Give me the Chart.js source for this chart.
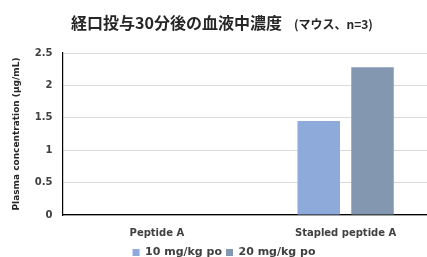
<!DOCTYPE html>
<html>
<head>
<meta charset="utf-8">
<script src="https://cdn.jsdelivr.net/npm/chart.js@4"></script>
<style>
  body { margin: 0; overflow: hidden; background: #fff; }
  #wrap { width: 440px; height: 268px; }
</style>
</head>
<body>
<div id="wrap"><canvas id="myChart"></canvas></div>
<script>
// categories and values
const categories = ["Peptide A", "Stapled peptide A"];
const dose10 = [0, 1.45];
const dose20 = [0, 2.28];
const seriesNames = ["10 mg/kg po", "20 mg/kg po"];
const titleMain = "経口投与30分後の血液中濃度";
const titleNote = "(マウス、n=3)";

const barColors = {
    low: "#8eaadb",
    high: "#8497b0",
};

const labelFont = { family: "'DejaVu Sans', Verdana, sans-serif", size: 10, weight: "bold" };

// title with a smaller note after it, like the original
const twoPartTitle = {
    id: "twoPartTitle",
    afterDraw(chart) {
        const c = chart.ctx;
        c.save();
        c.fillStyle = "#262626";
        c.textBaseline = "middle";
        const mainFont = "bold 16px 'Noto Sans CJK JP', sans-serif";
        const noteFont = "bold 12px 'Noto Sans CJK JP', sans-serif";
        c.font = mainFont;
        const w1 = c.measureText(titleMain).width;
        c.font = noteFont;
        const w2 = c.measureText(titleNote).width;
        const gap = 12;
        let x = 222 - (w1 + gap + w2) / 2;
        c.font = mainFont;
        c.fillText(titleMain, x, 23);
        c.font = noteFont;
        c.fillText(titleNote, x + w1 + gap, 24);
        c.restore();
    },
};

const ctx = document.getElementById("myChart").getContext("2d");
const myChart = new Chart(ctx, {
    type: "bar",
    data: {
        labels: categories,
        datasets: [
            { label: seriesNames[0], data: dose10, backgroundColor: barColors.low },
            { label: seriesNames[1], data: dose20, backgroundColor: barColors.high },
        ],
    },
    options: {
        responsive: true,
        maintainAspectRatio: false,
        animation: false,
        categoryPercentage: 0.57,
        barPercentage: 0.79,
        layout: { padding: { left: 8, right: 0, top: 53, bottom: 0 } },
        plugins: {
            title: { display: false },
            legend: {
                position: "bottom",
                labels: {
                    boxWidth: 7,
                    boxHeight: 7,
                    padding: 4,
                    color: "#404040",
                    font: { family: "'DejaVu Sans', Verdana, sans-serif", size: 11, weight: "bold" },
                },
            },
            tooltip: { enabled: false },
        },
        scales: {
            x: {
                grid: { display: false },
                border: { color: "#000", width: 1.2 },
                ticks: { color: "#404040", font: labelFont, padding: 4 },
            },
            y: {
                min: 0,
                max: 2.5,
                ticks: {
                    stepSize: 0.5,
                    color: "#404040",
                    font: labelFont,
                    padding: 10,
                    callback: (v) => String(v),
                },
                grid: { color: "#d9d9d9", drawTicks: false },
                border: { color: "#000", width: 1.2 },
                title: {
                    display: true,
                    text: "Plasma concentration (μg/mL)",
                    color: "#262626",
                    font: { family: "'DejaVu Sans', Verdana, sans-serif", size: 9, weight: "bold" },
                    padding: 3,
                },
            },
        },
    },
    plugins: [twoPartTitle],
});
</script>
</body>
</html>
